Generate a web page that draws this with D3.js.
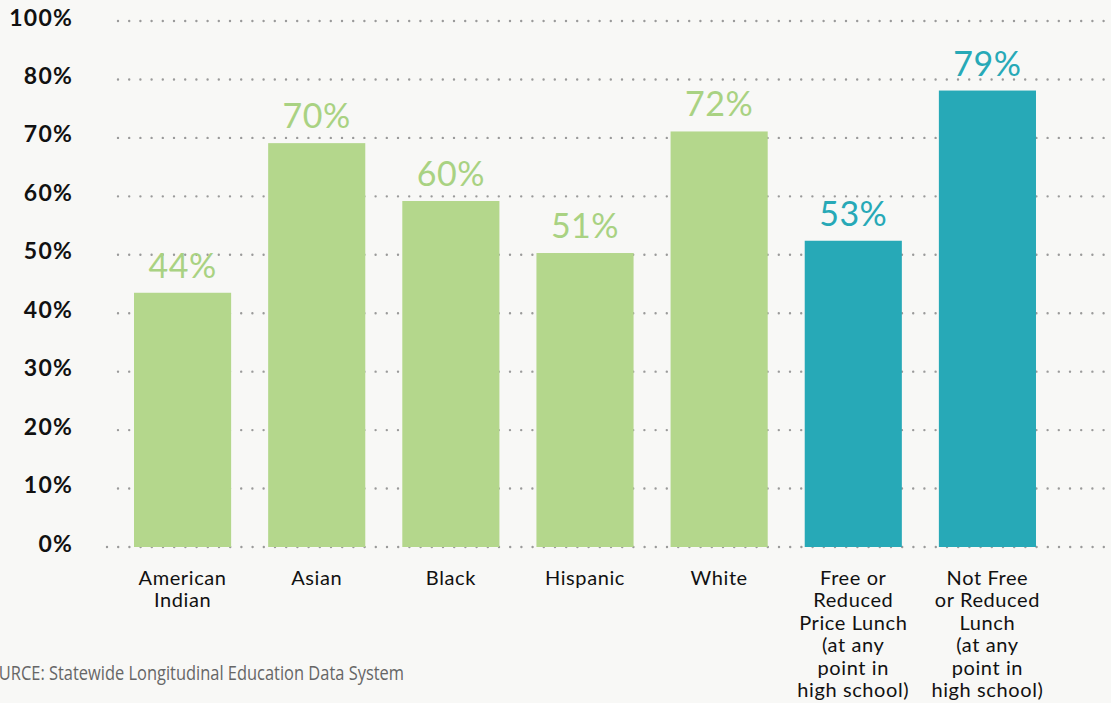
<!DOCTYPE html>
<html>
<head>
<meta charset="utf-8">
<script src="https://cdn.jsdelivr.net/npm/d3@7.9.0/dist/d3.min.js"></script>
<style>
    html, body { margin: 0; padding: 0; background: #f8f8f6; overflow: hidden; }
    svg { display: block; }
</style>
</head>
<body>
<svg id="chart" width="1111" height="703"></svg>
<script>
// data
const categories = [
    'American\nIndian',
    'Asian',
    'Black',
    'Hispanic',
    'White',
    'Free or\nReduced\nPrice Lunch\n(at any\npoint in\nhigh school)',
    'Not Free\nor Reduced\nLunch\n(at any\npoint in\nhigh school)'
];
const values = [43.5, 69.1, 59.2, 50.3, 71.1, 52.4, 78.1];
const valueLabels = ['44%', '70%', '60%', '51%', '72%', '53%', '79%'];
const groups = ['race', 'race', 'race', 'race', 'race', 'lunch', 'lunch'];
const tickValues = [0, 10, 20, 30, 40, 50, 60, 70, 80, 90];
const tickLabels = ['0%', '10%', '20%', '30%', '40%', '50%', '60%', '70%', '80%', '100%'];
const source = 'SOURCE: Statewide Longitudinal Education Data System';

const barColor = { race: '#b4d78c', lunch: '#27a9b7' };
const textColor = { race: '#a9d282', lunch: '#27a9b7' };

const svg = d3.select('#chart');

const x = d3.scaleBand()
    .domain(categories)
    .range([115.5, 1054.5])
    .paddingInner(0.276)
    .paddingOuter(0.138);

const y = d3.scaleLinear()
    .domain([0, 90])
    .range([547, 21]);

// dotted gridlines (behind bars)
const grid = svg.append('g');
tickValues.forEach((v) => {
    grid.append('line')
        .attr('x1', v === 0 ? 107 : 118)
        .attr('x2', 1111)
        .attr('y1', y(v))
        .attr('y2', y(v))
        .attr('stroke', '#9a9a9a')
        .attr('stroke-width', 2.4)
        .attr('stroke-linecap', 'round')
        .attr('stroke-dasharray', '0 11.2');
});

// y axis labels
const yAxis = d3.axisLeft(y)
    .tickValues(tickValues)
    .tickFormat((d, i) => tickLabels[i])
    .tickSize(0)
    .tickPadding(0);

svg.append('g')
    .attr('transform', 'translate(73,0)')
    .call(yAxis)
    .call(g => g.select('.domain').remove())
    .call(g => g.selectAll('text')
        .attr('dy', 4)
        .attr('dominant-baseline', 'auto')
        .attr('fill', '#111')
        .attr('font-family', 'Lato, sans-serif')
        .attr('font-weight', 700)
        .attr('font-size', 23)
        .attr('letter-spacing', 1.2));

// bars
svg.append('g')
    .selectAll('rect')
    .data(values)
    .join('rect')
    .attr('x', (d, i) => x(categories[i]))
    .attr('y', (d) => y(d))
    .attr('width', x.bandwidth())
    .attr('height', (d) => y(0) - y(d))
    .attr('fill', (d, i) => barColor[groups[i]]);

// value labels
svg.append('g')
    .selectAll('text')
    .data(values)
    .join('text')
    .attr('x', (d, i) => x(categories[i]) + x.bandwidth() / 2)
    .attr('y', (d) => y(d) - 15)
    .attr('text-anchor', 'middle')
    .attr('fill', (d, i) => textColor[groups[i]])
    .attr('font-family', 'Lato, sans-serif')
    .attr('font-size', 34)
    .attr('letter-spacing', 0.5)
    .text((d, i) => valueLabels[i]);

// category labels
const xLabels = svg.append('g')
    .selectAll('text')
    .data(categories)
    .join('text')
    .attr('x', (d) => x(d) + x.bandwidth() / 2)
    .attr('y', 585)
    .attr('text-anchor', 'middle')
    .attr('fill', '#111')
    .attr('font-family', 'Lato, sans-serif')
    .attr('font-size', 20)
    .attr('letter-spacing', 0.6);

xLabels.each(function (d) {
    const t = d3.select(this);
    d.split('\n').forEach((line, k) => {
        t.append('tspan')
            .attr('x', x(d) + x.bandwidth() / 2)
            .attr('dy', k === 0 ? 0 : 22.4)
            .text(line);
    });
});

// source note, cut at the left edge like the original
svg.append('text')
    .attr('x', -23)
    .attr('y', 680)
    .attr('fill', '#666')
    .attr('font-family', '"Open Sans", sans-serif')
    .attr('font-size', 20)
    .attr('textLength', 427)
    .attr('lengthAdjust', 'spacingAndGlyphs')
    .text(source);
</script>
</body>
</html>
